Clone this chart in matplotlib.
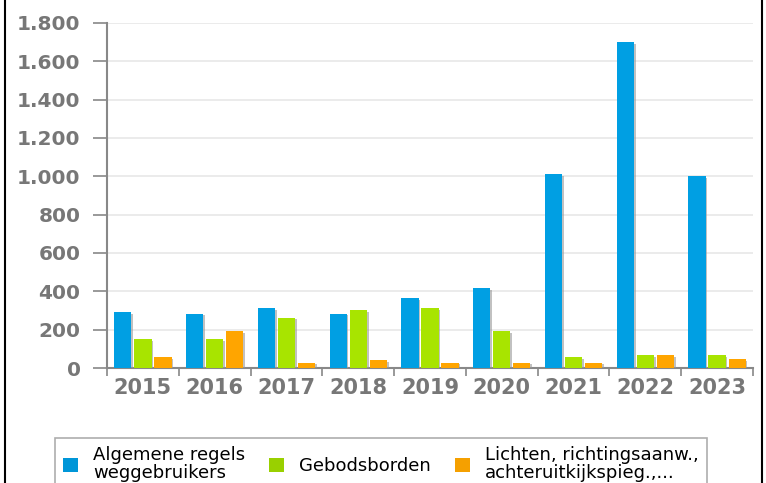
import numpy as np
import matplotlib as mpl
mpl.use('Agg')
import matplotlib.pyplot as plt
import matplotlib.patheffects as pe
from matplotlib.lines import Line2D
from matplotlib.patches import Patch
from matplotlib.ticker import FuncFormatter

years = ['2015', '2016', '2017', '2018', '2019', '2020', '2021', '2022', '2023']
algemene = [291, 283, 312, 283, 364, 416, 1010, 1700, 1000]
gebods = [149, 149, 262, 303, 312, 191, 57, 68, 68]
lichten = [55, 191, 28, 40, 28, 28, 28, 68, 47]
series_names = ['Algemene regels\nweggebruikers', 'Gebodsborden',
                'Lichten, richtingsaanw.,\nachteruitkijkspieg.,...']
colors = ['#009fe3', '#a8e400', '#ffa500']
legend_colors = ['#0096d8', '#99d000', '#f5a000']

fig = plt.figure(figsize=(7.66, 4.83), dpi=100)
ax = fig.add_axes([107 / 766, 1 - 368 / 483, (753 - 107) / 766, (368 - 23) / 483])

x = np.arange(len(years))
w = 0.24
shadow = [pe.SimplePatchShadow(offset=(1.2, -1.2), shadow_rgbFace='#999999', alpha=0.6), pe.Normal()]
for i, vals in enumerate([algemene, gebods, lichten]):
    b = ax.bar(x + (i - 1) * 0.28, vals, w, color=colors[i], zorder=3)
    for p in b:
        p.set_path_effects(shadow)

ax.set_xlim(-0.5, len(years) - 0.5)
ax.set_ylim(0, 1800)
ax.set_yticks(range(0, 1801, 200))
ax.yaxis.set_major_formatter(FuncFormatter(lambda v, _: f'{int(v):,}'.replace(',', '.')))
ax.grid(axis='y', color='#e8e8e8', linewidth=1.2, zorder=0)

ax.set_xticks(x)
ax.set_xticklabels(years)
ax.set_xticks(np.arange(len(years) + 1) - 0.5, minor=True)
ax.tick_params(axis='x', which='major', length=0, pad=7, labelsize=15, labelcolor='#777777')
ax.tick_params(axis='x', which='minor', length=6, width=1.2, color='#888888')
ax.tick_params(axis='y', length=10, width=1.2, color='#888888', pad=9,
               labelsize=14.5, labelcolor='#777777')
for lab in ax.get_xticklabels() + ax.get_yticklabels():
    lab.set_fontweight('bold')

for s in ['top', 'right']:
    ax.spines[s].set_visible(False)
for s in ['left', 'bottom']:
    ax.spines[s].set_color('#888888')
    ax.spines[s].set_linewidth(1.5)

handles = [Patch(facecolor=c) for c in legend_colors]
leg = fig.legend(handles, series_names, loc='upper left',
                 bbox_to_anchor=(55 / 766, 1 - 438 / 483), borderaxespad=0, ncol=3,
                 frameon=True, fancybox=False, edgecolor='#999999',
                 prop={'family': 'DejaVu Sans', 'size': 13},
                 handlelength=0.83, handleheight=0.8, handletextpad=0.85,
                 columnspacing=1.3, borderpad=0.45, labelspacing=0.1)
leg.get_frame().set_linewidth(1.2)
for t in leg.get_texts():
    t.set_linespacing(1.0)

fig.add_artist(Line2D([4.5 / 766, 4.5 / 766], [0, 1], color='black', lw=1.5))
fig.add_artist(Line2D([762 / 766, 762 / 766], [0, 1], color='black', lw=1.5))

fig.savefig('out.png', dpi=100)
